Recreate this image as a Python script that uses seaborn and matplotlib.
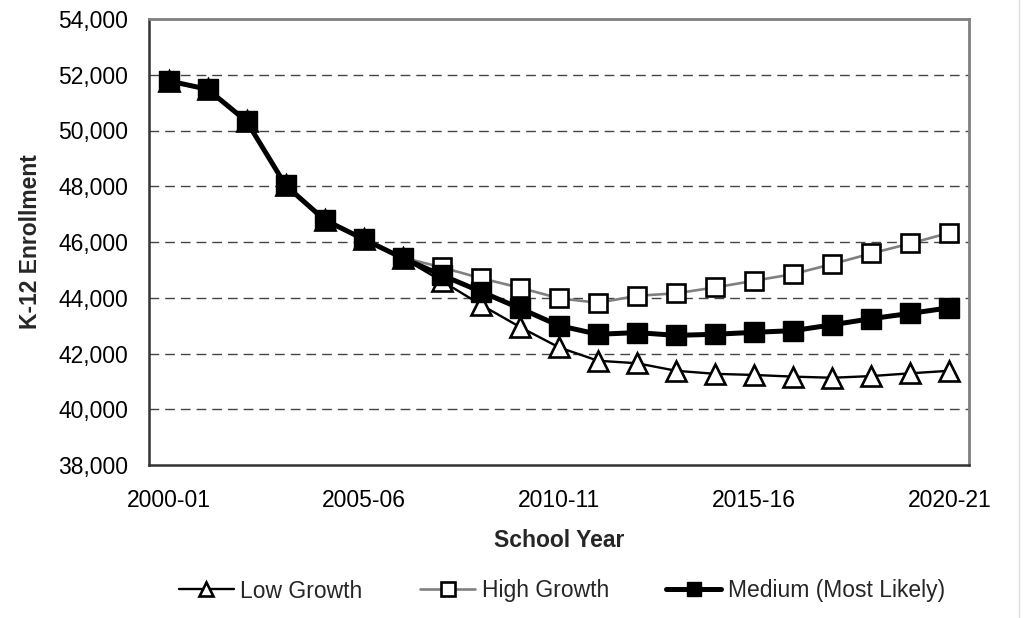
import matplotlib
matplotlib.use("Agg")
import matplotlib.pyplot as plt
import seaborn as sns
import numpy as np
import pandas as pd
from matplotlib.lines import Line2D
from matplotlib.ticker import FuncFormatter, FixedLocator

years = ["2000-01", "2001-02", "2002-03", "2003-04", "2004-05", "2005-06", "2006-07",
         "2007-08", "2008-09", "2009-10", "2010-11", "2011-12", "2012-13", "2013-14",
         "2014-15", "2015-16", "2016-17", "2017-18", "2018-19", "2019-20", "2020-21"]
low_growth = [51780, 51480, 50330, 48030, 46790, 46100, 45420,
              44600, 43750, 42950, 42220, 41740, 41650, 41380,
              41270, 41230, 41170, 41130, 41190, 41290, 41380]
high_growth = [51780, 51480, 50330, 48030, 46790, 46100, 45440,
               45090, 44700, 44360, 43980, 43820, 44070, 44160,
               44370, 44610, 44850, 45210, 45590, 45950, 46330]
medium = [51780, 51480, 50330, 48030, 46790, 46100, 45420,
          44810, 44220, 43620, 43000, 42690, 42750, 42650,
          42690, 42760, 42820, 43030, 43250, 43440, 43640]
shown_labels = ["2000-01", "2005-06", "2010-11", "2015-16", "2020-21"]

sns.set_theme(style="white")
plt.rcParams['font.family'] = ['Liberation Sans', 'DejaVu Sans']

fig = plt.figure(figsize=(10.24, 6.18), dpi=100)
ax = fig.add_axes([149/1024, 1-465/618, (969-149)/1024, (465-19)/618])

df = pd.DataFrame({"idx": np.arange(len(years)), "year": years,
                   "low": low_growth, "high": high_growth, "medium": medium})

sns.lineplot(data=df, x="idx", y="low", ax=ax, color="black", linewidth=1.7,
             marker="^", markersize=14, markerfacecolor="white",
             markeredgecolor="black", markeredgewidth=1.9, label="Low Growth", zorder=3)
sns.lineplot(data=df, x="idx", y="high", ax=ax, color="#808080", linewidth=1.9,
             marker="s", markersize=13, markerfacecolor="white",
             markeredgecolor="black", markeredgewidth=1.9, label="High Growth", zorder=4)
sns.lineplot(data=df, x="idx", y="medium", ax=ax, color="black", linewidth=3.6,
             marker="s", markersize=14, markerfacecolor="black",
             markeredgecolor="black", markeredgewidth=1.0, label="Medium (Most Likely)", zorder=5)

ax.set_xlim(-0.5, len(years) - 0.5)
ax.set_ylim(38000, 54000)
ax.set_yticks(np.arange(38000, 54001, 2000))
ax.yaxis.set_major_formatter(FuncFormatter(lambda v, p: f"{int(v):,}"))

pos = [years.index(l) for l in shown_labels]
ax.set_xticks(pos)
ax.set_xticklabels(shown_labels)
ax.xaxis.set_minor_locator(FixedLocator(np.arange(-0.5, len(years), 1.0)))
ax.tick_params(axis="x", which="major", length=0, pad=17, labelsize=16.5, colors="black")
ax.tick_params(axis="x", which="minor", length=6, width=1.2, color="#333333", direction="out")
ax.tick_params(axis="y", which="major", length=6, width=1.2, color="#333333",
               direction="out", labelsize=16.5, pad=9)
ax.tick_params(axis="both", labelcolor="black")

for v in np.arange(40000, 53000, 2000):
    ax.axhline(v, color="#444444", linewidth=1.0, linestyle=(0, (7, 4.3)), zorder=1)

for side in ["top", "right"]:
    ax.spines[side].set_color("#808080")
    ax.spines[side].set_linewidth(2)
for side in ["left", "bottom"]:
    ax.spines[side].set_color("#333333")
    ax.spines[side].set_linewidth(1.8)

ax.set_xlabel("School Year", fontsize=16.5, fontweight="bold")
ax.set_ylabel("K-12 Enrollment", fontsize=16.5, fontweight="bold")
ax.xaxis.set_label_coords(0.5, -(529-465)/446)
ax.yaxis.set_label_coords(-(149-30)/820, 0.5)
ax.yaxis.label.set_verticalalignment("center")

ax.get_legend().remove()
handles, labels = ax.get_legend_handles_labels()
fig.legend(handles, labels, loc="center", bbox_to_anchor=(562/1024, 1-591/618), ncol=3,
           frameon=False, fontsize=16.5, handlelength=2.4, handletextpad=0.3,
           columnspacing=2.5, markerscale=0.75)

fig.add_artist(Line2D([1019/1024, 1019/1024], [0, 1], color="#dddddd", linewidth=1))

fig.savefig("out.png", dpi=100)
